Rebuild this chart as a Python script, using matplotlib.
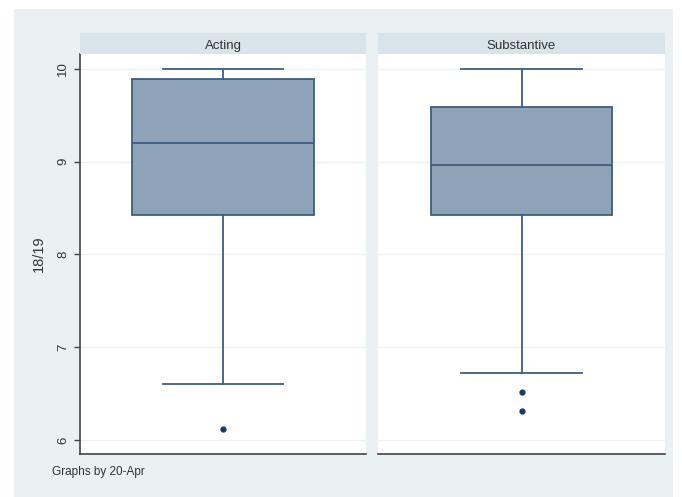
import matplotlib
matplotlib.use("Agg")
import matplotlib.pyplot as plt
from matplotlib.patches import Rectangle

plt.rcParams["font.family"] = ["Liberation Sans", "DejaVu Sans"]

# Summary statistics of the 18/19 scores, by 20-Apr group
groups = ["Acting", "Substantive"]
q1 = [8.42, 8.42]
median = [9.20, 8.96]
q3 = [9.89, 9.59]
whisker_low = [6.60, 6.72]
whisker_high = [10.0, 10.0]
outliers = [[6.12], [6.52, 6.31]]
y_ticks = [6, 7, 8, 9, 10]

W, H = 682, 497
fig = plt.figure(figsize=(W / 100, H / 100), dpi=100)
fig.patch.set_facecolor("white")

bg = "#eaf1f3"
strip_col = "#d8e3ea"
fill_col = "#8fa3b8"
edge_col = "#3f5d80"
grid_col = "#eef2f4"
text_col = "#333333"

# graph region background
fig.add_artist(Rectangle((14 / W, 0), (673 - 14) / W, (497 - 9) / H,
                         transform=fig.transFigure, facecolor=bg,
                         edgecolor="none", zorder=-10))

panels = [(80, 366), (378, 665)]
top_px, bot_px, strip_top = 54, 454, 33

for i, (x0, x1) in enumerate(panels):
    ax = fig.add_axes([x0 / W, (H - bot_px) / H, (x1 - x0) / W,
                       (bot_px - top_px) / H])
    ax.set_facecolor("white")
    stats = [dict(med=median[i], q1=q1[i], q3=q3[i],
                  whislo=whisker_low[i], whishi=whisker_high[i],
                  fliers=outliers[i])]
    ax.bxp(stats, positions=[0], widths=0.633, capwidths=0.423,
           patch_artist=True,
           boxprops=dict(facecolor=fill_col, edgecolor=edge_col, linewidth=1.3),
           medianprops=dict(color=edge_col, linewidth=1.3),
           whiskerprops=dict(color=edge_col, linewidth=1.3),
           capprops=dict(color=edge_col, linewidth=1.3),
           flierprops=dict(marker="o", markersize=3.5,
                           markerfacecolor="#1c3a66",
                           markeredgecolor="#1c3a66"))
    ax.set_xlim(-0.5, 0.5)
    ax.set_ylim(5.85, 10.16)
    ax.set_yticks(y_ticks)
    ax.set_xticks([])
    for y in y_ticks:
        ax.axhline(y, color=grid_col, linewidth=1.0, zorder=0)
    for s in ["top", "right"]:
        ax.spines[s].set_visible(False)
    ax.spines["bottom"].set_color("#444444")
    ax.spines["bottom"].set_linewidth(1.2)
    if i == 0:
        ax.spines["left"].set_color("#444444")
        ax.spines["left"].set_linewidth(1.2)
        ax.tick_params(axis="y", length=4, width=1.0, color="#444444",
                       labelsize=9.5, labelcolor=text_col, pad=4)
        for lbl in ax.get_yticklabels():
            lbl.set_rotation(90)
            lbl.set_va("center")
        ax.set_ylabel("18/19", fontsize=10.5, color=text_col, labelpad=8)
    else:
        ax.spines["left"].set_visible(False)
        ax.tick_params(axis="y", left=False, labelleft=False)

    # strip header
    sax = fig.add_axes([x0 / W, (H - top_px) / H, (x1 - x0) / W,
                        (top_px - strip_top) / H])
    sax.set_facecolor(strip_col)
    sax.set_xticks([])
    sax.set_yticks([])
    for s in sax.spines.values():
        s.set_visible(False)
    sax.text(0.5, 0.45, groups[i], ha="center", va="center_baseline",
             fontsize=9.5, color=text_col, transform=sax.transAxes)

fig.text(52 / W, (H - 472) / H, "Graphs by 20-Apr", fontsize=8.5,
         color=text_col, ha="left", va="center")

fig.savefig("out.png", dpi=100)
